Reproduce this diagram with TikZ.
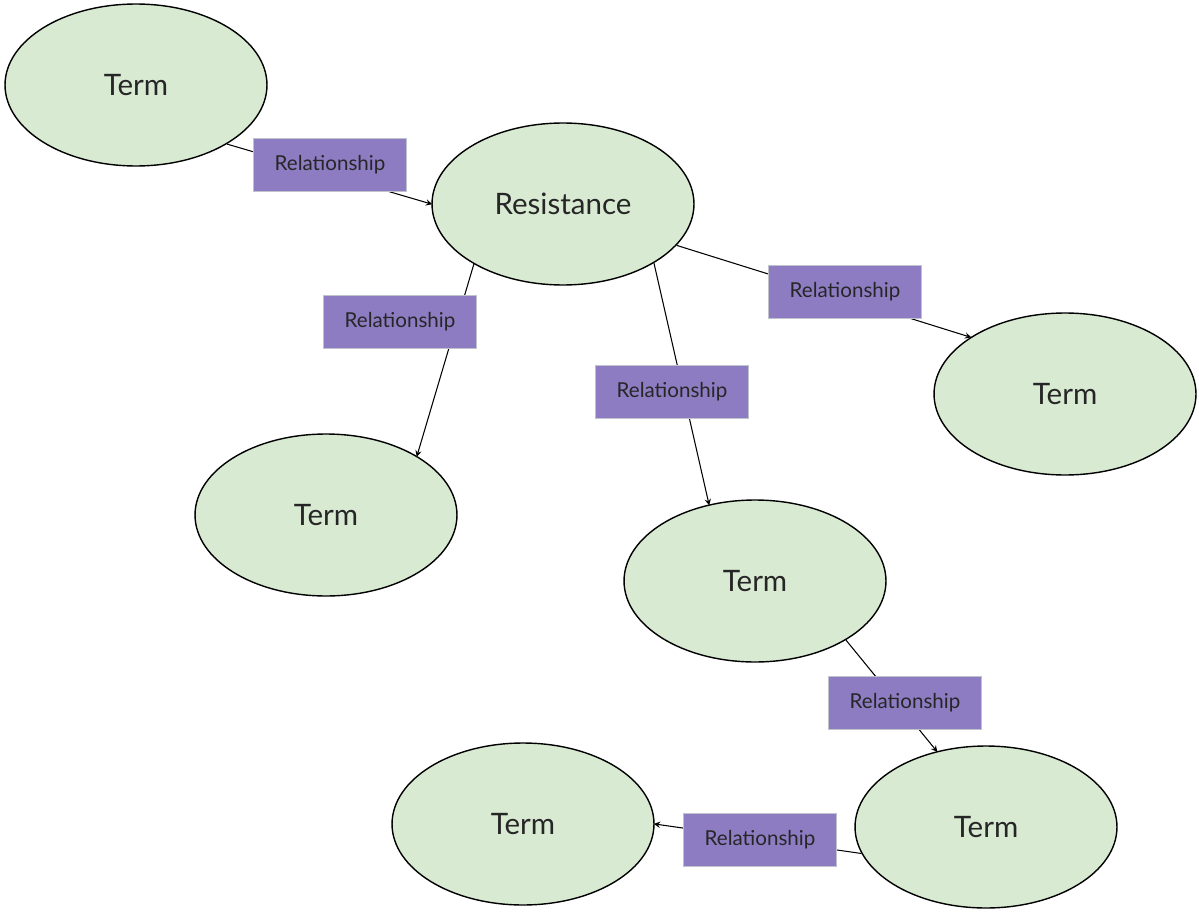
\documentclass[tikz,border=0pt]{standalone}
\usepackage{fontspec}
\setmainfont{Lato}
\usetikzlibrary{shapes.geometric}
\definecolor{termgreen}{HTML}{D9EAD3}
\definecolor{relpurple}{HTML}{8E7CC3}
\definecolor{relframe}{HTML}{BFC4CC}
\begin{document}
\begin{tikzpicture}[x=0.02cm, y=-0.02cm,
        term/.style={ellipse, draw=black, fill=termgreen, line width=0.8pt, minimum width=5.24cm, minimum height=3.24cm, font=\fontsize{16.8}{20}\selectfont, text=black!85},
        rel/.style={rectangle, draw=relframe, fill=relpurple, line width=0.8pt, minimum width=3.06cm, minimum height=1.05cm, inner sep=0pt, font=\fontsize{11.7}{14}\selectfont, text=black!85},
        link/.style={line width=0.6pt, ->, >=stealth, shorten >=-0.5pt}]
    \useasboundingbox (0,0) rectangle (1199,912);
	\node[term] (topterm) at (136,85) {Term};
	\node[term] (res) at (563,204) {Resistance};
    \node[term] (rightterm) at (1065,394) {Term};
    \node[term] (leftterm) at (326,515) {Term};
    \node[term] (midterm) at (755,581) {Term};
    \node[term] (lowright) at (986,827) {Term};
    \node[term] (lowleft) at (523,824) {Term};
	\draw[link] (topterm.327) -- (res.180);
    \draw[link] (res.214) -- (leftterm.33);
    \draw[link] (res.327) -- (midterm.121);
    \draw[link] (res.340) -- (rightterm.149);
    \draw[link] (midterm.327) -- (lowright.123);
    \draw[link] (lowright.192) -- (lowleft.0);
    \node[rel] (relA) at (330,165) {Relationship};
    \node[rel] (relB) at (400,322) {Relationship};
    \node[rel] (relC) at (672,392) {Relationship};
    \node[rel] (relD) at (845,292) {Relationship};
    \node[rel] (relE) at (905,703) {Relationship};
    \node[rel] (relF) at (760,840) {Relationship};
\end{tikzpicture}
\end{document}
